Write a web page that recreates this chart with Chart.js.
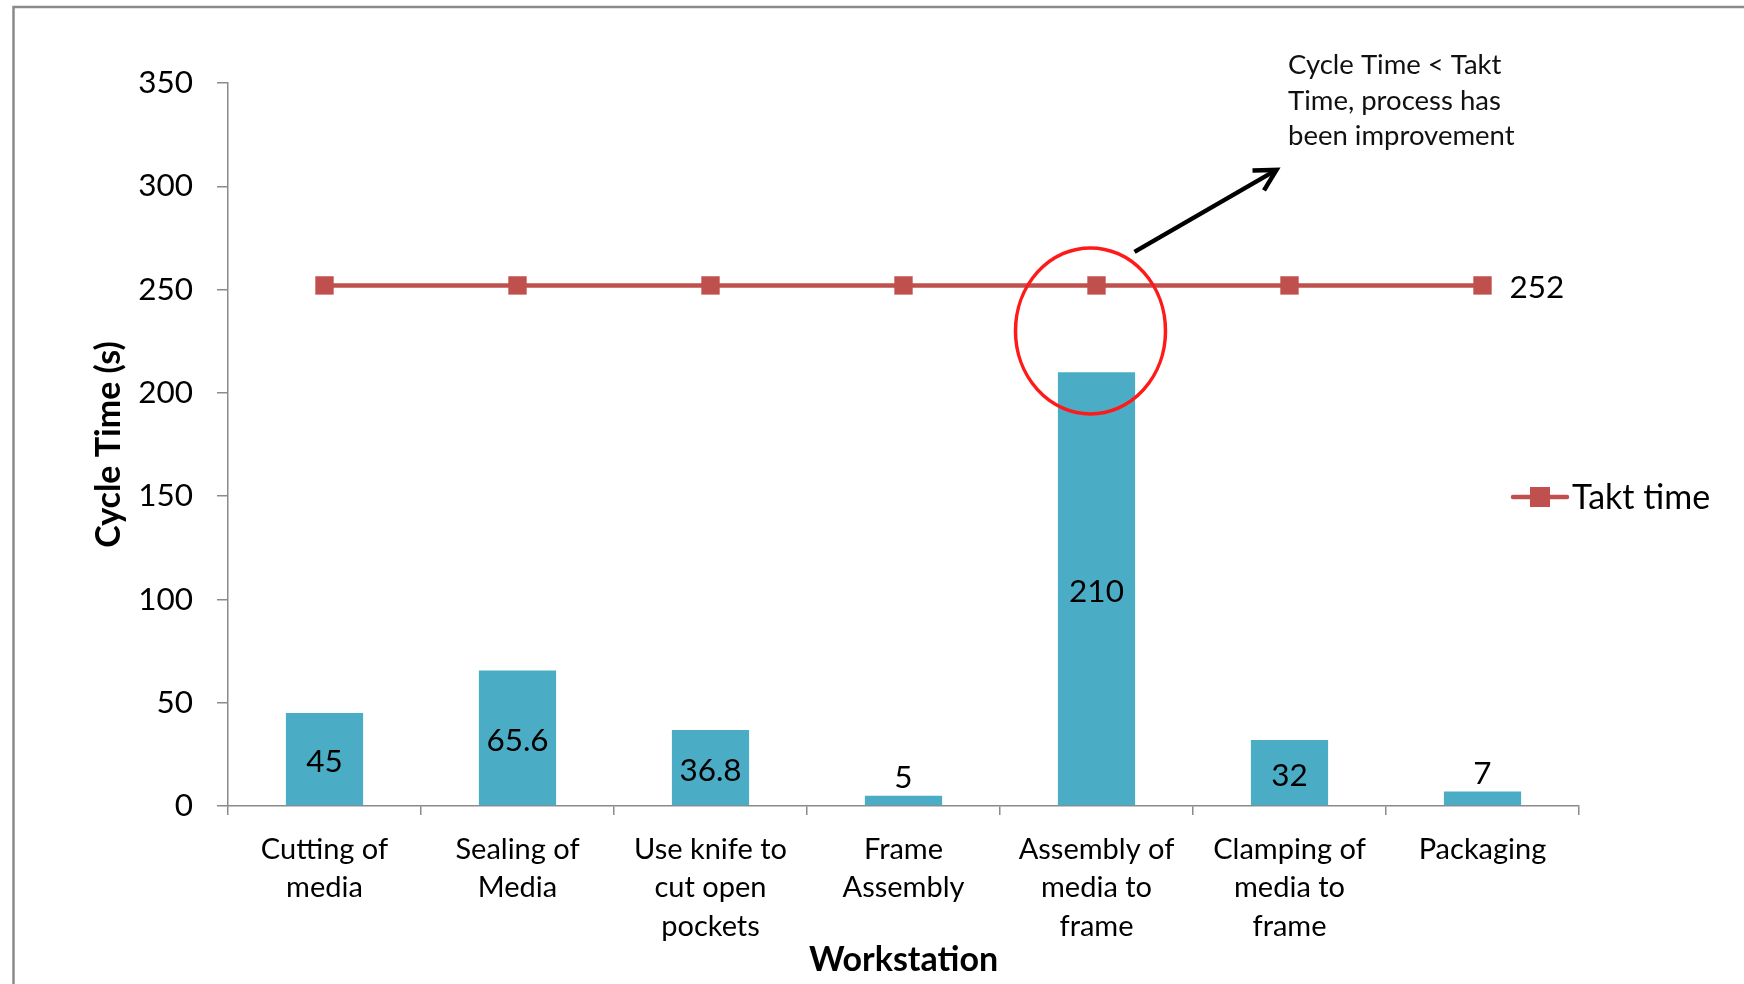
<!DOCTYPE html>
<html>
<head>
<meta charset="utf-8">
<script src="https://cdn.jsdelivr.net/npm/chart.js@4/dist/chart.umd.min.js"></script>
<style>
  html, body { margin: 0; padding: 0; background: #ffffff; }
  #wrap { width: 1744px; height: 984px; position: relative; }
</style>
</head>
<body>
<div id="wrap"><canvas id="chart"></canvas></div>
<script>
// Workstations along the line and their measured cycle times (seconds)
const workstations = [
  ['Cutting of', 'media'],
  ['Sealing of', 'Media'],
  ['Use knife to', 'cut open', 'pockets'],
  ['Frame', 'Assembly'],
  ['Assembly of', 'media to', 'frame'],
  ['Clamping of', 'media to', 'frame'],
  ['Packaging']
];
const cycleTimes = [45, 65.6, 36.8, 5, 210, 32, 7];
const taktTime = [252, 252, 252, 252, 252, 252, 252];

// Value axis range
const yMin = 0;
const yMax = 350;
const yStep = 50;

// Callout text and the workstation it points at
const noteLines = ['Cycle Time < Takt', 'Time, process has', 'been improvement'];
const highlightIndex = 4;
const highlightValue = 230;

const FONT = 'Lato, "Open Sans", sans-serif';
const BAR_COLOR = '#4BACC6';
const TAKT_COLOR = '#C0504D';
const AXIS_COLOR = '#8a8a8a';

// Thin grey frame around the chart object
const framePlugin = {
  id: 'frame',
  beforeDraw(chart) {
    const ctx = chart.ctx;
    ctx.save();
    ctx.strokeStyle = '#8a8a8a';
    ctx.lineWidth = 2.5;
    ctx.beginPath();
    ctx.moveTo(13.5, chart.height + 5);
    ctx.lineTo(13.5, 7);
    ctx.lineTo(chart.width + 5, 7);
    ctx.stroke();
    ctx.restore();
  }
};

// Value labels on the bars: centred inside tall bars, above short ones
const barLabelPlugin = {
  id: 'barLabels',
  afterDatasetsDraw(chart) {
    const ctx = chart.ctx;
    const meta = chart.getDatasetMeta(0);
    const values = chart.data.datasets[0].data;
    ctx.save();
    ctx.font = '31.5px ' + FONT;
    ctx.fillStyle = '#000';
    ctx.textAlign = 'center';
    ctx.textBaseline = 'middle';
    meta.data.forEach((bar, i) => {
      const { x, y, base } = bar.getProps(['x', 'y', 'base'], true);
      const h = base - y;
      const ly = h > 40 ? (y + base) / 2 + 3 : y - 18;
      ctx.fillText(String(values[i]), x, ly);
    });
    ctx.restore();
  }
};

// Takt value printed at the end of the line, plus the series key on the right
const taktPlugin = {
  id: 'taktExtras',
  afterDatasetsDraw(chart) {
    const ctx = chart.ctx;
    const ds = chart.data.datasets[1];
    const meta = chart.getDatasetMeta(1);
    const last = meta.data[meta.data.length - 1];
    ctx.save();
    ctx.font = '31.5px ' + FONT;
    ctx.fillStyle = '#000';
    ctx.textAlign = 'left';
    ctx.textBaseline = 'middle';
    ctx.fillText(String(ds.data[ds.data.length - 1]), last.x + 27, last.y + 2);

    // key
    const ky = 497;
    const kx0 = 1513, kx1 = 1567;
    ctx.strokeStyle = ds.borderColor;
    ctx.lineWidth = ds.borderWidth;
    ctx.lineCap = 'round';
    ctx.beginPath();
    ctx.moveTo(kx0, ky);
    ctx.lineTo(kx1, ky);
    ctx.stroke();
    ctx.fillStyle = ds.pointBackgroundColor;
    ctx.fillRect((kx0 + kx1) / 2 - 10, ky - 10, 20, 20);
    ctx.fillStyle = '#000';
    ctx.font = '34px ' + FONT;
    ctx.fillText(ds.label, 1572, ky + 1);
    ctx.restore();
  }
};

// Red ring around the improved workstation, arrow and callout text
const calloutPlugin = {
  id: 'callout',
  afterDatasetsDraw(chart) {
    const ctx = chart.ctx;
    const xs = chart.scales.x, ys = chart.scales.y;
    const cx = xs.getPixelForValue(highlightIndex) - 6;
    const cy = ys.getPixelForValue(highlightValue);
    ctx.save();
    ctx.strokeStyle = '#ff1a1a';
    ctx.lineWidth = 3.5;
    ctx.beginPath();
    ctx.ellipse(cx, cy, 75, 83, 0, 0, Math.PI * 2);
    ctx.stroke();

    // arrow
    const x0 = cx + 44, y0 = cy - 79;
    const x1 = cx + 186, y1 = cy - 161;
    ctx.strokeStyle = '#000';
    ctx.lineWidth = 4.5;
    ctx.lineCap = 'butt';
    ctx.lineJoin = 'miter';
    ctx.beginPath();
    ctx.moveTo(x0, y0);
    ctx.lineTo(x1, y1);
    ctx.stroke();
    const ang = Math.atan2(y1 - y0, x1 - x0);
    const len = 24, spread = 0.5;
    ctx.beginPath();
    ctx.moveTo(x1 - len * Math.cos(ang - spread), y1 - len * Math.sin(ang - spread));
    ctx.lineTo(x1, y1);
    ctx.lineTo(x1 - len * Math.cos(ang + spread), y1 - len * Math.sin(ang + spread));
    ctx.stroke();

    // text
    ctx.fillStyle = '#111';
    ctx.font = '27.5px ' + FONT;
    ctx.textAlign = 'left';
    ctx.textBaseline = 'middle';
    noteLines.forEach((line, i) => {
      ctx.fillText(line, 1288, 65 + i * 35.8);
    });
    ctx.restore();
  }
};

function build() {
  Chart.defaults.font.family = FONT;
  Chart.defaults.color = '#000';

  new Chart(document.getElementById('chart'), {
    data: {
      labels: workstations,
      datasets: [
        {
          type: 'bar',
          label: 'Cycle time',
          data: cycleTimes,
          backgroundColor: BAR_COLOR,
          borderWidth: 0,
          categoryPercentage: 1,
          barPercentage: 0.4,
          order: 2
        },
        {
          type: 'line',
          label: 'Takt time',
          data: taktTime,
          borderColor: TAKT_COLOR,
          backgroundColor: TAKT_COLOR,
          borderWidth: 4.5,
          pointStyle: 'rect',
          pointRadius: 13,
          pointHoverRadius: 13,
          pointBackgroundColor: TAKT_COLOR,
          pointBorderWidth: 0,
          tension: 0,
          order: 1
        }
      ]
    },
    options: {
      responsive: true,
      maintainAspectRatio: false,
      animation: false,
      events: [],
      layout: { padding: { left: 14, top: 83, right: 165, bottom: 0 } },
      plugins: {
        legend: { display: false },
        tooltip: { enabled: false }
      },
      scales: {
        x: {
          type: 'category',
          offset: true,
          grid: {
            display: true,
            offset: true,
            drawOnChartArea: false,
            drawTicks: true,
            tickLength: 9,
            color: AXIS_COLOR,
            lineWidth: 1.5
          },
          border: { display: true, color: AXIS_COLOR, width: 1.5 },
          ticks: {
            autoSkip: false,
            maxRotation: 0,
            minRotation: 0,
            padding: 15,
            color: '#000',
            font: { size: 29, lineHeight: 1.33 }
          },
          title: {
            display: true,
            text: 'Workstation',
            color: '#000',
            font: { size: 34, weight: 'bold', lineHeight: 1.2 },
            padding: { top: 0, bottom: 4 }
          },
          afterFit(scale) { scale.height = 984 - 806; }
        },
        y: {
          min: yMin,
          max: yMax,
          grid: {
            display: true,
            drawOnChartArea: false,
            drawTicks: true,
            tickLength: 11,
            color: AXIS_COLOR,
            lineWidth: 1.5
          },
          border: { display: true, color: AXIS_COLOR, width: 1.5 },
          ticks: {
            stepSize: yStep,
            padding: 24,
            color: '#000',
            font: { size: 31.5 }
          },
          title: {
            display: true,
            text: 'Cycle Time (s)',
            color: '#000',
            font: { size: 34, weight: 'bold', lineHeight: 1.2 },
            padding: { top: 75, bottom: 0 }
          },
          afterFit(scale) { scale.width = 228 - 14; }
        }
      }
    },
    plugins: [framePlugin, barLabelPlugin, taktPlugin, calloutPlugin]
  });
}

Promise.all([
  document.fonts.load('31px Lato'),
  document.fonts.load('bold 31px Lato')
]).then(build, build);
</script>
</body>
</html>
